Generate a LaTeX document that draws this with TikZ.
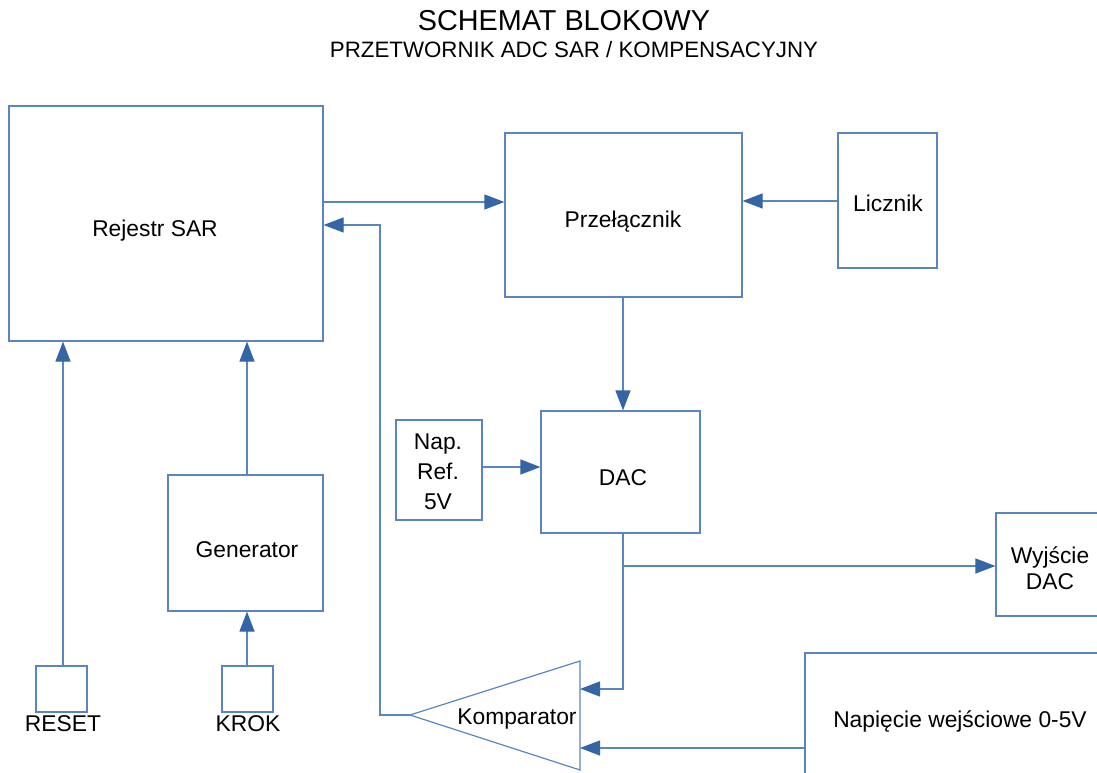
\documentclass[tikz,border=0pt]{standalone}
\usepackage{fontspec}
\setmainfont{Liberation Sans}
\usetikzlibrary{arrows.meta}
\definecolor{lineblue}{HTML}{5B85C2}
\definecolor{tipblue}{HTML}{3465A4}
\tikzset{
  box/.style={draw=lineblue, line width=1.2pt, fill=white, inner sep=0pt},
  conn/.style={draw=lineblue, line width=1.2pt},
  arr/.style={conn, -{Triangle[length=20pt,width=15pt,fill=tipblue,color=tipblue]}},
  lbl/.style={font=\fontsize{22.8}{26}\selectfont, align=center, inner sep=0pt}
}
\begin{document}
\begin{tikzpicture}[x=1pt,y=-1pt]
\useasboundingbox (0,0) rectangle (1097,773);
\fill[white] (0,0) rectangle (1097,773);
% title
\node[font=\fontsize{28.8}{32}\selectfont, inner sep=0pt] (title) at (564,21) {SCHEMAT BLOKOWY};
\node[font=\fontsize{22.3}{24}\selectfont, inner sep=0pt] (subtitle) at (574,50) {PRZETWORNIK ADC SAR / KOMPENSACYJNY};
% boxes
\node[box, minimum width=314, minimum height=235] (rej) at (166,223.5) {};
\node[lbl] (rejt) at (155,231) {Rejestr SAR};
\node[box, minimum width=237, minimum height=164] (prz) at (623.5,215) {};
\node[lbl] (przt) at (623,222) {Przełącznik};
\node[box, minimum width=99, minimum height=135] (lic) at (887.5,200.5) {};
\node[lbl] (lict) at (888,203) {Licznik};
\node[box, minimum width=159, minimum height=122] (dac) at (620.5,472) {};
\node[lbl] (dact) at (623,478) {DAC};
\node[box, minimum width=86, minimum height=100] (ref) at (439,470) {};
\node[lbl, font=\fontsize{22.8}{30}\selectfont] (reft) at (438,472) {Nap.\\Ref.\\5V};
\node[box, minimum width=110, minimum height=103] (wyj) at (1051,564.5) {};
\node[lbl] (wyjt) at (1050,568) {Wyjście\hspace{7pt}\\DAC};
\node[box, minimum width=310, minimum height=130] (nap) at (960,718) {};
\node[lbl] (napt) at (960,721) {Napięcie wejściowe 0-5V};
\node[box, minimum width=155, minimum height=136] (gen) at (245.5,543) {};
\node[lbl] (gent) at (247,550) {Generator};
\node[box, minimum width=51, minimum height=46] (res) at (61.5,689) {};
\node[lbl, anchor=north] (rest) at (63,715) {RESET};
\node[box, minimum width=51, minimum height=46] (krok) at (247.5,689) {};
\node[lbl, anchor=north] (krokt) at (248,715) {KROK};
% comparator
\coordinate (compOut) at (410,715);
\coordinate (compIn1) at (580,689);
\coordinate (compIn2) at (580,748);
\draw[conn, fill=white] (compOut) -- (580,661) -- (580,770) -- cycle;
\node[lbl] (compt) at (517,719) {Komparator};
% connectors
\draw[arr] (rej.east |- 0,202) -- (prz.west |- 0,202);
\draw[arr] (lic.west |- 0,201) -- (prz.east |- 0,201);
\draw[arr] (prz.south -| 623,0) -- (dac.north -| 623,0);
\draw[arr] (ref.east |- 0,467) -- (dac.west |- 0,467);
\coordinate (split) at (623,566);
\draw[conn] (dac.south -| 623,0) -- (split);
\draw[arr] (split) -- (wyj.west |- split);
\draw[arr] (split) -- (623,689) -- (compIn1);
\draw[arr] (nap.west |- compIn2) -- (compIn2);
\draw[arr] (compOut) -- (380,715) -- (380,225) -- (rej.east |- 0,225);
\draw[arr] (gen.north -| 247,0) -- (rej.south -| 247,0);
\draw[arr] (res.north -| 63,0) -- (rej.south -| 63,0);
\draw[arr] (krok.north -| 247,0) -- (gen.south -| 247,0);
\end{tikzpicture}
\end{document}
